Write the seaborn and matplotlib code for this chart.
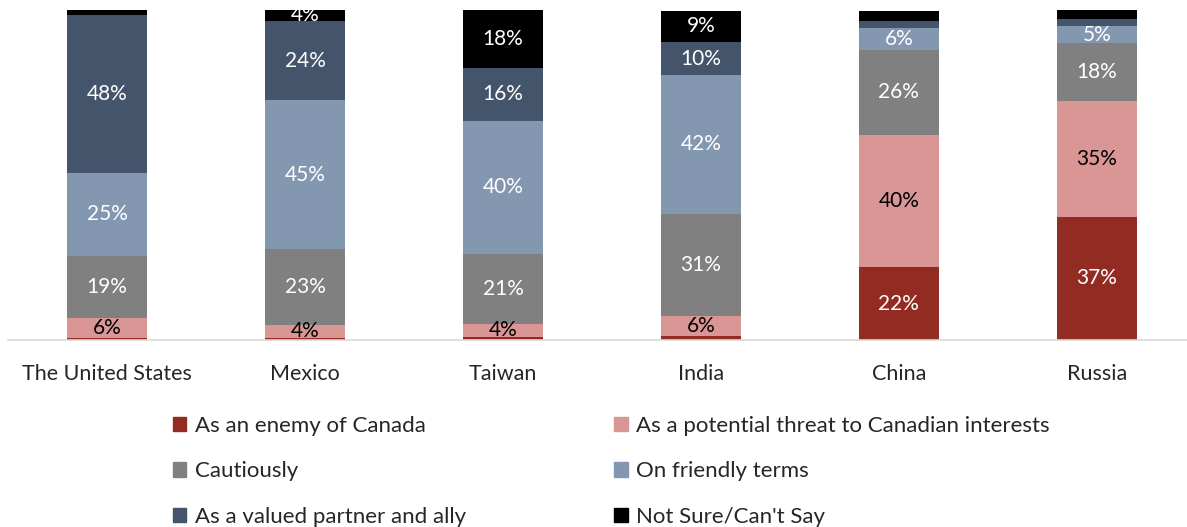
import numpy as np
import pandas as pd
import matplotlib
matplotlib.use("Agg")
import matplotlib.pyplot as plt
from matplotlib.patches import Patch
import seaborn as sns

#DATA
countries = ["The United States", "Mexico", "Taiwan", "India", "China", "Russia"]
categories = ["As an enemy of Canada", "As a potential threat to Canadian interests",
              "Cautiously", "On friendly terms", "As a valued partner and ally",
              "Not Sure/Can't Say"]
enemy = [0.6, 0.6, 1.0, 1.3, 22, 37.4]
threat = [6, 4, 4, 6, 40, 35]
cautious = [19, 23, 21, 31, 26, 17.6]
friendly = [25, 45, 40.5, 42, 6.4, 5.1]
partner = [48, 24, 16, 10, 2.4, 2.1]
not_sure = [1.6, 4, 17.6, 9.4, 3.0, 2.8]

colors_ = ["#922B21", "#DA9694", "#808080", "#8497B0", "#44546A", "#000000"]
label_colors = ["white", "black", "white", "white", "white", "white"]

series = [enemy, threat, cautious, friendly, partner, not_sure]
df = pd.DataFrame(dict(zip(categories, series)), index=countries)
cum = df.cumsum(axis=1)

sns.set_style("white")
plt.rcParams['font.family'] = ['Lato', 'DejaVu Sans']

fig = plt.figure(figsize=(11.87, 5.27), dpi=100)
ax = fig.add_axes([8 / 1187, (527 - 340) / 527, 1 - 8 / 1187, 330 / 527])

#stacked bars: draw the cumulative totals from the top down
for i in range(len(categories) - 1, -1, -1):
    col = categories[i]
    sns.barplot(x=countries, y=cum[col].values, color=colors_[i], width=0.4,
                saturation=1, ax=ax, linewidth=0)

#segment labels
for i, col in enumerate(categories):
    for j, c in enumerate(countries):
        v = df.loc[c, col]
        if v < 3.5:
            continue
        mid = cum.loc[c, col] - v / 2
        ax.text(j, mid, "%d%%" % round(v), ha="center", va="center",
                fontsize=15, color=label_colors[i])

ax.set_ylim(0, 100)
ax.set_xlim(-0.5, 5.455)
ax.set_yticks([])
ax.set_ylabel("")
for s in ["top", "left", "right"]:
    ax.spines[s].set_visible(False)
ax.spines["bottom"].set_color("#D9D9D9")
ax.spines["bottom"].set_linewidth(1.2)
ax.tick_params(axis="x", length=0, labelsize=15.5, pad=17)

#legend, filled row by row
handles = [Patch(color=colors_[k], label=categories[k]) for k in range(6)]
order = [0, 2, 4, 1, 3, 5]
fig.legend([handles[k] for k in order], [categories[k] for k in order],
           ncol=2, loc="upper left", bbox_to_anchor=(0.129, 0.249),
           frameon=False, fontsize=16, handlelength=0.6, handleheight=0.6,
           handletextpad=0.4, columnspacing=6.65, labelspacing=1.15)

fig.savefig("out.png", dpi=100)
